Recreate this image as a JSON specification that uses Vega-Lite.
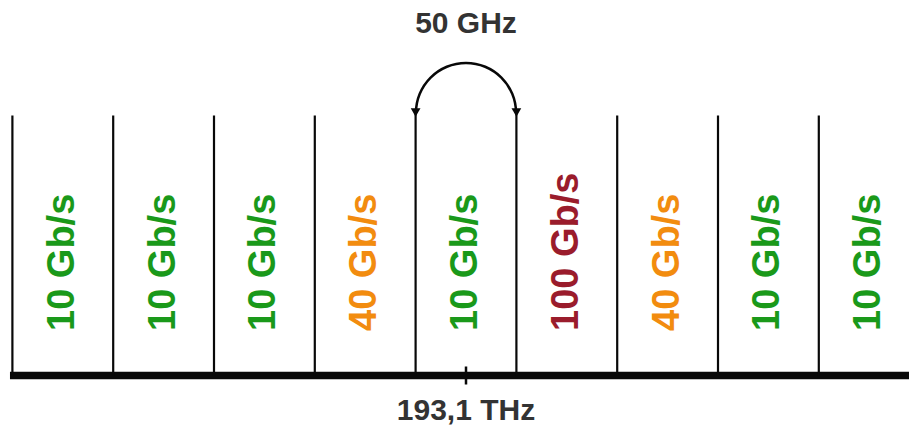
{
  "$schema": "https://vega.github.io/schema/vega-lite/v6.json",
  "width": 909,
  "height": 425,
  "autosize": {"type": "none"},
  "padding": 0,
  "background": "white",
  "config": {"view": {"stroke": null}},
  "datasets": {
    "channels": [
      {"f": -200, "rate": "10 Gb/s"},
      {"f": -150, "rate": "10 Gb/s"},
      {"f": -100, "rate": "10 Gb/s"},
      {"f": -50, "rate": "40 Gb/s"},
      {"f": 0, "rate": "10 Gb/s"},
      {"f": 50, "rate": "100 Gb/s"},
      {"f": 100, "rate": "40 Gb/s"},
      {"f": 150, "rate": "10 Gb/s"},
      {"f": 200, "rate": "10 Gb/s"}
    ],
    "edges": [
      {"f": -225, "lo": 0, "hi": 260},
      {"f": -175, "lo": 0, "hi": 260},
      {"f": -125, "lo": 0, "hi": 260},
      {"f": -75, "lo": 0, "hi": 260},
      {"f": -25, "lo": 0, "hi": 263},
      {"f": 25, "lo": 0, "hi": 263},
      {"f": 75, "lo": 0, "hi": 260},
      {"f": 125, "lo": 0, "hi": 260},
      {"f": 175, "lo": 0, "hi": 260}
    ],
    "axisline": [{"f0": -226.2, "f1": 219.74, "lvl": 0}],
    "tick": [{"f": 0, "lo": -9, "hi": 9}],
    "spacing": [{"f": 0, "lvl": 262.5}],
    "arrows": [{"f": -25, "lvl": 263}, {"f": 25, "lvl": 263}],
    "labels": [
      {"f": 0, "lvl": 342.5, "text": "50 GHz"},
      {"f": 0, "lvl": -44.5, "text": "193,1 THz"}
    ]
  },
  "layer": [
    {
      "data": {"name": "axisline"},
      "mark": {"type": "rule", "strokeWidth": 7.5, "color": "#080808", "strokeCap": "butt"},
      "encoding": {
        "x": {"field": "f0", "type": "quantitative", "scale": {"domain": [-231.15, 219.74], "nice": false, "zero": false}, "axis": null},
        "x2": {"field": "f1"},
        "y": {"field": "lvl", "type": "quantitative", "scale": {"domain": [-49.5, 375.5], "nice": false, "zero": false}, "axis": null}
      }
    },
    {
      "data": {"name": "edges"},
      "mark": {"type": "rule", "strokeWidth": 2.2, "color": "#080808", "strokeCap": "butt"},
      "encoding": {
        "x": {"field": "f", "type": "quantitative", "scale": {"domain": [-231.15, 219.74], "nice": false, "zero": false}, "axis": null},
        "y": {"field": "lo", "type": "quantitative", "scale": {"domain": [-49.5, 375.5], "nice": false, "zero": false}, "axis": null},
        "y2": {"field": "hi"}
      }
    },
    {
      "data": {"name": "tick"},
      "mark": {"type": "rule", "strokeWidth": 2.5, "color": "#080808", "strokeCap": "butt"},
      "encoding": {
        "x": {"field": "f", "type": "quantitative", "scale": {"domain": [-231.15, 219.74], "nice": false, "zero": false}, "axis": null},
        "y": {"field": "lo", "type": "quantitative", "scale": {"domain": [-49.5, 375.5], "nice": false, "zero": false}, "axis": null},
        "y2": {"field": "hi"}
      }
    },
    {
      "data": {"name": "spacing"},
      "mark": {"type": "arc", "theta": -1.5708, "theta2": 1.5708, "radius": 51.3, "radius2": 48.8, "color": "#080808"},
      "encoding": {
        "x": {"field": "f", "type": "quantitative", "scale": {"domain": [-231.15, 219.74], "nice": false, "zero": false}, "axis": null},
        "y": {"field": "lvl", "type": "quantitative", "scale": {"domain": [-49.5, 375.5], "nice": false, "zero": false}, "axis": null}
      }
    },
    {
      "data": {"name": "arrows"},
      "mark": {"type": "point", "shape": "triangle-down", "filled": true, "size": 95, "color": "#080808", "opacity": 1},
      "encoding": {
        "x": {"field": "f", "type": "quantitative", "scale": {"domain": [-231.15, 219.74], "nice": false, "zero": false}, "axis": null},
        "y": {"field": "lvl", "type": "quantitative", "scale": {"domain": [-49.5, 375.5], "nice": false, "zero": false}, "axis": null}
      }
    },
    {
      "data": {"name": "channels"},
      "mark": {"type": "text", "angle": 270, "align": "left", "baseline": "middle", "font": "Liberation Sans", "fontWeight": "bold", "fontSize": 38},
      "encoding": {
        "x": {"field": "f", "type": "quantitative", "scale": {"domain": [-231.15, 219.74], "nice": false, "zero": false}, "axis": null},
        "y": {"datum": 44.5, "type": "quantitative", "scale": {"domain": [-49.5, 375.5], "nice": false, "zero": false}, "axis": null},
        "text": {"field": "rate"},
        "color": {"field": "rate", "type": "nominal", "scale": {"domain": ["10 Gb/s", "40 Gb/s", "100 Gb/s"], "range": ["#1a991a", "#f28c0f", "#9a1c2c"]}, "legend": null}
      }
    },
    {
      "data": {"name": "labels"},
      "mark": {"type": "text", "align": "center", "baseline": "alphabetic", "font": "Liberation Sans", "fontWeight": "bold", "fontSize": 30, "color": "#333333"},
      "encoding": {
        "x": {"field": "f", "type": "quantitative", "scale": {"domain": [-231.15, 219.74], "nice": false, "zero": false}, "axis": null},
        "y": {"field": "lvl", "type": "quantitative", "scale": {"domain": [-49.5, 375.5], "nice": false, "zero": false}, "axis": null},
        "text": {"field": "text"}
      }
    }
  ]
}
